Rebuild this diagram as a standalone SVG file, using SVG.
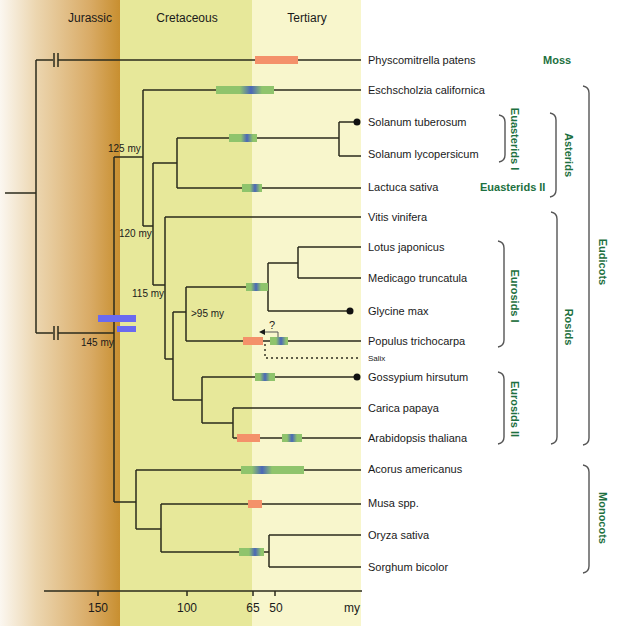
<svg xmlns="http://www.w3.org/2000/svg" width="640" height="626" viewBox="0 0 640 626">
<style>
text{font-family:"Liberation Sans",Arial,sans-serif;fill:#1a1a1a}
.tx{font-size:11px}
.hd{font-size:12px;text-anchor:middle}
.my{font-size:10px}
.ax{font-size:12px;text-anchor:middle}
.cl{font-size:11px;font-weight:bold;fill:#1d7040}
.ln{fill:none;stroke:#2b2b1c;stroke-width:1.5}
.br{fill:none;stroke:#555;stroke-width:1.4}
.g{fill:#8fc46c}
.o{fill:#f4916a}
.b{fill:url(#spot)}
</style>
<defs>
<linearGradient id="jur" x1="0" y1="0" x2="1" y2="0">
<stop offset="0" stop-color="#fbf7f0"/>
<stop offset="0.3" stop-color="#ecd6b0"/>
<stop offset="0.75" stop-color="#d9ab66"/>
<stop offset="1" stop-color="#c88f30"/>
</linearGradient>
<linearGradient id="spot" x1="0" y1="0" x2="1" y2="0">
<stop offset="0" stop-color="#4a66b8" stop-opacity="0"/>
<stop offset="0.5" stop-color="#4a66b8" stop-opacity="1"/>
<stop offset="1" stop-color="#4a66b8" stop-opacity="0"/>
</linearGradient>
</defs>
<rect x="0" y="0" width="640" height="626" fill="#ffffff"/>
<rect x="0" y="0" width="120" height="626" fill="url(#jur)"/>
<rect x="120" y="0" width="132" height="626" fill="#e7e89a"/>
<rect x="252" y="0" width="109" height="626" fill="#f8f6cc"/>
<g id="headers">
<text class="hd" x="90" y="22">Jurassic</text>
<text class="hd" x="187" y="22">Cretaceous</text>
<text class="hd" x="307" y="22">Tertiary</text>
</g>
<g id="connectors">
<path class="ln" d="M5,193H36M36,60V333M36,60H53M58,60H361M36,333H53M58,333H114"/>
<path class="ln" d="M54,53V67M58,53V67M54,326V340M58,326V340"/>
<path class="ln" d="M114,157V502M114,157H143M143,90V226M143,90H361M143,226H153M153,163V285M153,163H177M177,138V188M177,138H339M339,122V156M339,122H357M339,156H361M177,188H361"/>
<path class="ln" d="M153,285H165M165,217V359M165,217H361M165,359H173M173,312V400M173,312H186M186,287V341M186,287H268M268,263V311M268,263H298M298,247V278M298,247H361M298,278H361M268,311H350M186,341H361"/>
<path class="ln" d="M173,400H202M202,377V423M202,377H357M202,423H233M233,408V438M233,408H361M233,438H361"/>
<path class="ln" d="M114,502H136M136,470V529M136,470H361M136,529H161M161,504V552M161,504H361M161,552H269M269,535V567M269,535H361M269,567H361"/>
<path d="M265,344V358H361" fill="none" stroke="#2b2b1c" stroke-width="1.4" stroke-dasharray="2,3"/>
<path d="M278,341V332H264" fill="none" stroke="#555" stroke-width="1"/>
<path d="M259,332L265,329V335Z" fill="#1a1a1a"/>
<circle cx="357" cy="122" r="3.5" fill="#111"/>
<circle cx="350" cy="311" r="3.5" fill="#111"/>
<circle cx="357" cy="377" r="3.5" fill="#111"/>
</g>
<g id="bars">
<rect x="98" y="315" width="38" height="7" fill="#6a6af0"/>
<rect x="117" y="326" width="19" height="6" fill="#6a6af0"/>
<rect class="o" x="255" y="56" width="43" height="8"/>
<rect class="g" x="216" y="86" width="58" height="8"/><rect class="b" x="240" y="86" width="22" height="8"/>
<rect class="g" x="229" y="134" width="28" height="8"/><rect class="b" x="241" y="134" width="12" height="8"/>
<rect class="g" x="242" y="184" width="20" height="8"/><rect class="b" x="250" y="184" width="10" height="8"/>
<rect class="g" x="246" y="283" width="22" height="8"/><rect class="b" x="251" y="283" width="10" height="8"/>
<rect class="o" x="243" y="337" width="20" height="8"/>
<rect class="g" x="270" y="337" width="18" height="8"/><rect class="b" x="276" y="337" width="10" height="8"/>
<rect class="g" x="255" y="373" width="20" height="8"/><rect class="b" x="260" y="373" width="10" height="8"/>
<rect class="o" x="237" y="434" width="23" height="8"/>
<rect class="g" x="282" y="434" width="20" height="8"/><rect class="b" x="287" y="434" width="10" height="8"/>
<rect class="g" x="241" y="466" width="63" height="8"/><rect class="b" x="252" y="466" width="20" height="8"/>
<rect class="o" x="248" y="500" width="14" height="8"/>
<rect class="g" x="239" y="548" width="25" height="8"/><rect class="b" x="249" y="548" width="12" height="8"/>
</g>
<g id="ages">
<text class="my" x="108" y="152">125 my</text>
<text class="my" x="119" y="237">120 my</text>
<text class="my" x="132" y="297">115 my</text>
<text class="my" x="191" y="317">&gt;95 my</text>
<text class="my" x="81" y="346">145 my</text>
<text style="font-size:11px" x="269" y="329">?</text>
</g>
<g id="taxa">
<g id="t-physcomitrella"><text class="tx" x="368" y="64">Physcomitrella patens</text></g>
<g id="t-eschscholzia"><text class="tx" x="368" y="94">Eschscholzia californica</text></g>
<g id="t-stuberosum"><text class="tx" x="368" y="126">Solanum tuberosum</text></g>
<g id="t-slycopersicum"><text class="tx" x="368" y="158">Solanum lycopersicum</text></g>
<g id="t-lactuca"><text class="tx" x="368" y="191">Lactuca sativa</text></g>
<g id="t-vitis"><text class="tx" x="368" y="221">Vitis vinifera</text></g>
<g id="t-lotus"><text class="tx" x="368" y="251">Lotus japonicus</text></g>
<g id="t-medicago"><text class="tx" x="368" y="282">Medicago truncatula</text></g>
<g id="t-glycine"><text class="tx" x="368" y="315">Glycine max</text></g>
<g id="t-populus"><text class="tx" x="368" y="345">Populus trichocarpa</text></g>
<g id="t-salix"><text x="368" y="361" style="font-size:8px">Salix</text></g>
<g id="t-gossypium"><text class="tx" x="368" y="381">Gossypium hirsutum</text></g>
<g id="t-carica"><text class="tx" x="368" y="412">Carica papaya</text></g>
<g id="t-arabidopsis"><text class="tx" x="368" y="442">Arabidopsis thaliana</text></g>
<g id="t-acorus"><text class="tx" x="368" y="473">Acorus americanus</text></g>
<g id="t-musa"><text class="tx" x="368" y="507">Musa spp.</text></g>
<g id="t-oryza"><text class="tx" x="368" y="539">Oryza sativa</text></g>
<g id="t-sorghum"><text class="tx" x="368" y="571">Sorghum bicolor</text></g>
</g>
<g id="clades">
<g id="c-moss"><text class="cl" x="543" y="64">Moss</text></g>
<g id="c-euasterids1"><path class="br" d="M499,115q6,1 6,7V155q0,6 -6,7"/><text class="cl" transform="translate(511,139) rotate(90)" text-anchor="middle">Euasterids I</text></g>
<g id="c-euasterids2"><text class="cl" x="480" y="191">Euasterids II</text></g>
<g id="c-asterids"><path class="br" d="M550,113q6,1 6,7V190q0,6 -6,7"/><text class="cl" transform="translate(565,155) rotate(90)" text-anchor="middle">Asterids</text></g>
<g id="c-eurosids1"><path class="br" d="M498,241q6,1 6,7V340q0,6 -6,7"/><text class="cl" transform="translate(511,296) rotate(90)" text-anchor="middle">Eurosids I</text></g>
<g id="c-eurosids2"><path class="br" d="M498,372q6,1 6,7V437q0,6 -6,7"/><text class="cl" transform="translate(511,409) rotate(90)" text-anchor="middle">Eurosids II</text></g>
<g id="c-rosids"><path class="br" d="M551,212q6,1 6,7V437q0,6 -6,7"/><text class="cl" transform="translate(565,327) rotate(90)" text-anchor="middle">Rosids</text></g>
<g id="c-eudicots"><path class="br" d="M583,86q6,1 6,7V438q0,6 -6,7"/><text class="cl" transform="translate(599,262) rotate(90)" text-anchor="middle">Eudicots</text></g>
<g id="c-monocots"><path class="br" d="M583,465q6,1 6,7V566q0,6 -6,7"/><text class="cl" transform="translate(599,518) rotate(90)" text-anchor="middle">Monocots</text></g>
</g>
<g id="axis">
<path class="ln" d="M44,591H362M98,591V596M187,591V596M253,591V596M275,591V596"/>
<text class="ax" x="98" y="612">150</text>
<text class="ax" x="187" y="612">100</text>
<text class="ax" x="253" y="612">65</text>
<text class="ax" x="276" y="612">50</text>
<text class="ax" x="352" y="612">my</text>
</g>
</svg>
